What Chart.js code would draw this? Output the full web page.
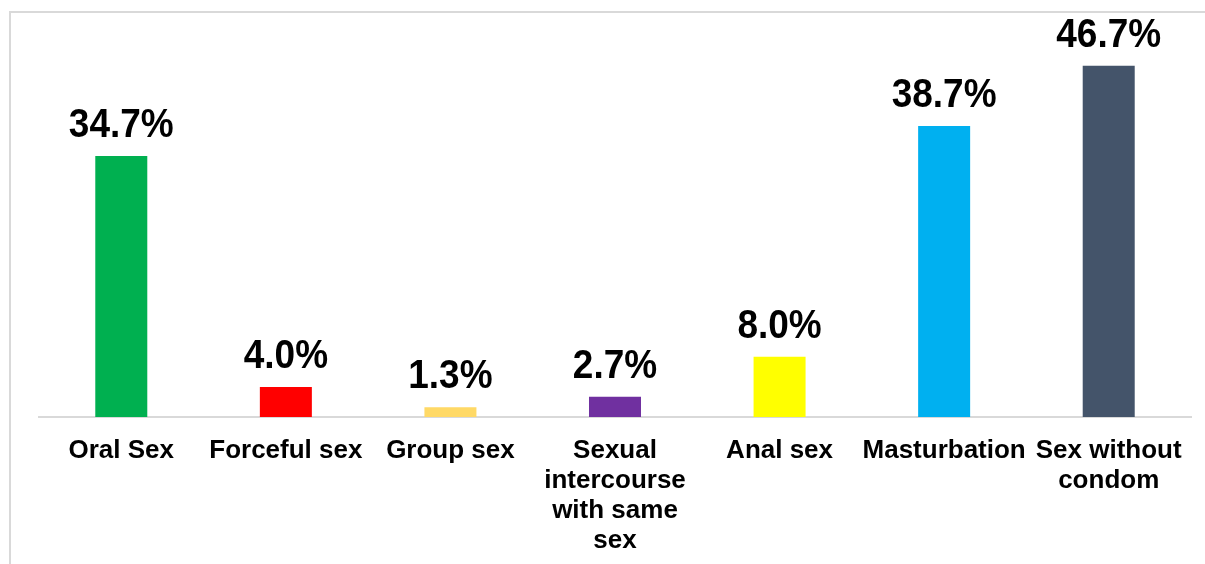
<!DOCTYPE html>
<html>
<head>
<meta charset="utf-8">
<script src="https://cdn.jsdelivr.net/npm/chart.js@4/dist/chart.umd.min.js"></script>
<style>
    html, body { margin: 0; padding: 0; background: #fff; overflow: hidden; }
    #wrap { position: relative; width: 1205px; height: 564px; overflow: hidden; }
    #frame {
        position: absolute; left: 9px; top: 11px;
        width: 1400px; height: 800px;
        border: 2px solid #d9d9d9;
    }
    canvas { position: absolute; left: 0; top: 0; }
</style>
</head>
<body>
<div id="wrap">
    <div id="frame"></div>
    <canvas id="chart" width="1205" height="586"></canvas>
</div>
<script>
const categories = [
    'Oral Sex',
    'Forceful sex',
    'Group sex',
    ['Sexual', 'intercourse', 'with same', 'sex'],
    'Anal sex',
    'Masturbation',
    ['Sex without', 'condom']
];
const percentages = [34.7, 4.0, 1.3, 2.7, 8.0, 38.7, 46.7];
const barColors = ['#00B050', '#FF0000', '#FFD966', '#7030A0', '#FFFF00', '#00B0F0', '#44546A'];

const FONT = '"Liberation Sans", Arial, sans-serif';

// draws the bold percentage above each bar (slightly tall glyphs like the original)
const valueLabels = {
    id: 'valueLabels',
    afterDatasetsDraw(chart) {
        const ctx = chart.ctx;
        const meta = chart.getDatasetMeta(0);
        meta.data.forEach((bar, i) => {
            ctx.save();
            ctx.font = 'bold 37px ' + FONT;
            ctx.fillStyle = '#000';
            ctx.textAlign = 'center';
            ctx.textBaseline = 'alphabetic';
            ctx.translate(bar.x, bar.y - 19);
            ctx.scale(1, 1.1);
            ctx.fillText(percentages[i].toFixed(1) + '%', 0, 0);
            ctx.restore();
        });
    }
};

new Chart(document.getElementById('chart'), {
    type: 'bar',
    data: {
        labels: categories,
        datasets: [{
            data: percentages,
            backgroundColor: barColors,
            borderWidth: 0,
            categoryPercentage: 1,
            barPercentage: 0.316
        }]
    },
    options: {
        responsive: false,
        animation: false,
        layout: {
            padding: { left: 39, right: 14, top: 41, bottom: 11 }
        },
        plugins: {
            legend: { display: false },
            tooltip: { enabled: false }
        },
        scales: {
            x: {
                grid: { display: false, drawTicks: false },
                border: { display: true, color: '#d9d9d9', width: 2 },
                ticks: {
                    color: '#000',
                    font: { family: FONT, size: 26, weight: 'bold', lineHeight: 30 / 26 },
                    padding: 19,
                    autoSkip: false,
                    minRotation: 0,
                    maxRotation: 0
                }
            },
            y: {
                display: false,
                min: 0,
                max: 50
            }
        }
    },
    plugins: [valueLabels]
});
</script>
</body>
</html>
